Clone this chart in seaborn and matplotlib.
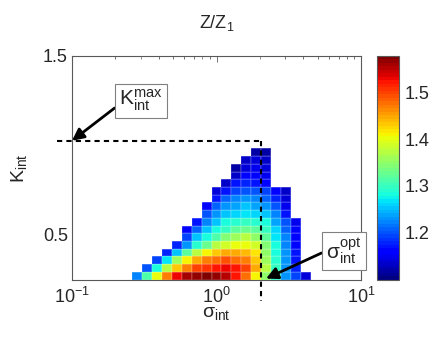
import numpy as np
import matplotlib
matplotlib.use("Agg")
import matplotlib.pyplot as plt
import seaborn as sns

# map grid: 29 x 29 cells, log-spaced in sigma_int, linear in K_int
n_cells = 29
log_sigma_lim = (-1.0, 1.0)
k_lim = (0.25, 1.5)

# first filled column of every row (row 0 = lowest K_int)
row_start = [6, 7, 8, 9, 10, 11, 11, 12, 13, 13, 14, 14, 15, 16, 16, 17, 18]

# Z/Z1 along each row
row_vals = [
    [1.22, 1.31, 1.40, 1.47, 1.53, 1.56, 1.57, 1.58, 1.57, 1.55, 1.52, 1.48, 1.41, 1.35, 1.29, 1.23, 1.19, 1.14],
    [1.20, 1.28, 1.37, 1.43, 1.47, 1.50, 1.51, 1.52, 1.53, 1.52, 1.50, 1.45, 1.37, 1.30, 1.23, 1.18],
    [1.19, 1.27, 1.36, 1.41, 1.45, 1.47, 1.48, 1.49, 1.48, 1.47, 1.43, 1.36, 1.29, 1.23, 1.17],
    [1.18, 1.25, 1.32, 1.37, 1.41, 1.43, 1.45, 1.45, 1.44, 1.42, 1.35, 1.28, 1.23, 1.17],
    [1.18, 1.23, 1.29, 1.33, 1.37, 1.39, 1.40, 1.40, 1.39, 1.34, 1.28, 1.22, 1.16],
    [1.19, 1.25, 1.28, 1.31, 1.34, 1.36, 1.37, 1.35, 1.32, 1.27, 1.22, 1.16],
    [1.16, 1.21, 1.25, 1.28, 1.30, 1.32, 1.33, 1.32, 1.30, 1.26, 1.21, 1.16],
    [1.17, 1.22, 1.25, 1.28, 1.29, 1.30, 1.29, 1.28, 1.24, 1.20, 1.15],
    [1.20, 1.23, 1.25, 1.26, 1.27, 1.26, 1.25, 1.22, 1.17],
    [1.16, 1.21, 1.23, 1.24, 1.25, 1.24, 1.23, 1.20, 1.15],
    [1.17, 1.21, 1.22, 1.23, 1.22, 1.21, 1.18, 1.14],
    [1.14, 1.17, 1.19, 1.20, 1.20, 1.19, 1.16, 1.13],
    [1.13, 1.17, 1.18, 1.17, 1.16],
    [1.13, 1.16, 1.16, 1.15],
    [1.12, 1.14, 1.15, 1.14],
    [1.13, 1.14, 1.13],
    [1.12, 1.12],
]

color_lim = (1.10, 1.578)
cbar_ticks = [1.2, 1.3, 1.4, 1.5]

k_max = 1.026      # dashed horizontal line
sigma_opt = 2.04   # dashed vertical line
dash_sigma_start = 0.079
dash_k_end = 0.128

k_label_pos = (0.30, 1.25)
k_arrow_tip = (0.10, k_max)
s_label_pos = (7.6, 0.41)
s_arrow_tip = (2.2, 0.255)


def hx(sigma):
    lo, hi = log_sigma_lim
    return (np.log10(sigma) - lo) / (hi - lo) * n_cells


def hy(k):
    lo, hi = k_lim
    return (k - lo) / (hi - lo) * n_cells


def main():
    sns.set_style("white")
    plt.rcParams["font.family"] = ["Liberation Sans", "DejaVu Sans"]
    plt.rcParams["mathtext.fontset"] = "custom"
    plt.rcParams["mathtext.rm"] = "Liberation Sans"
    plt.rcParams["mathtext.it"] = "Liberation Sans:italic"

    z = np.full((n_cells, n_cells), np.nan)
    for r, (start, vals) in enumerate(zip(row_start, row_vals)):
        z[r, start:start + len(vals)] = vals

    fig = plt.figure(figsize=(4.43, 3.51), dpi=100)
    W, H = 443, 351
    ax = fig.add_axes([72 / W, 1 - 279.5 / H, 289 / W, 223.5 / H])
    cax = fig.add_axes([377 / W, 1 - 279.5 / H, 22 / W, 223.5 / H])

    sns.heatmap(z, ax=ax, cbar_ax=cax, cmap=plt.get_cmap("jet", 64),
                vmin=color_lim[0], vmax=color_lim[1],
                linewidths=0.3, linecolor=(1, 1, 1, 0.12),
                xticklabels=False, yticklabels=False)
    ax.invert_yaxis()

    for s in ax.spines.values():
        s.set_visible(True)
        s.set_color("0.35")
        s.set_linewidth(0.8)

    # log axis ticks on the heatmap's cell coordinates
    ax.set_xticks([hx(0.1), hx(1.0), hx(10.0)])
    ax.set_xticklabels([r"$\mathregular{10^{-1}}$", r"$\mathregular{10^{0}}$",
                        r"$\mathregular{10^{1}}$"])
    minor = [m * 10.0 ** e for e in (-1, 0) for m in range(2, 10)]
    ax.set_xticks([hx(v) for v in minor], minor=True)
    ax.set_yticks([hy(0.5), hy(1.5)])
    ax.set_yticklabels(["0.5", "1.5"])
    ax.tick_params(which="both", direction="in", top=True, right=True,
                   color="0.35", width=0.6, labelsize=13)
    ax.tick_params(which="major", length=4)
    ax.tick_params(which="minor", length=2)
    ax.tick_params(axis="x", pad=5)
    ax.tick_params(axis="y", pad=3)

    ax.set_title(r"$\mathregular{Z/Z_1}$", fontsize=13, pad=20)
    ax.set_xlabel(r"$\mathregular{\sigma_{int}}$", fontsize=14, labelpad=-1)
    ax.set_ylabel(r"$\mathregular{K_{int}}$", fontsize=14, labelpad=10)

    dash = dict(color="k", lw=1.5, ls=(0, (2.5, 2)), clip_on=False)
    ax.plot([hx(dash_sigma_start), hx(sigma_opt)], [hy(k_max), hy(k_max)], **dash)
    ax.plot([hx(sigma_opt), hx(sigma_opt)], [hy(k_max), hy(dash_k_end)], **dash)

    box = dict(boxstyle="square,pad=0.2", fc="white", ec="0.5", lw=0.8)
    arrow = dict(arrowstyle="-|>,head_length=0.5,head_width=0.25", color="k",
                 lw=2, shrinkA=0, shrinkB=0, mutation_scale=14)
    ax.annotate(r"$\mathregular{K_{int}^{max}}$",
                xy=(hx(k_arrow_tip[0]), hy(k_arrow_tip[1])),
                xytext=(hx(k_label_pos[0]), hy(k_label_pos[1])),
                ha="center", va="center", fontsize=15, bbox=box,
                arrowprops=dict(arrow, relpos=(0, 0.35)), annotation_clip=False)
    ax.annotate(r"$\mathregular{\sigma_{int}^{opt}}$",
                xy=(hx(s_arrow_tip[0]), hy(s_arrow_tip[1])),
                xytext=(hx(s_label_pos[0]), hy(s_label_pos[1])),
                ha="center", va="center", fontsize=15, bbox=box,
                arrowprops=dict(arrow, relpos=(0, 0.5)), annotation_clip=False)

    cb = ax.collections[0].colorbar
    cb.set_ticks(cbar_ticks)
    cb.set_ticklabels([f"{t:.1f}" for t in cbar_ticks])
    cb.outline.set_linewidth(0.8)
    cb.outline.set_edgecolor("0.35")
    cax.tick_params(direction="in", left=True, right=True, length=3,
                    color="0.35", width=0.6, labelsize=13, pad=4)

    fig.savefig("out.png", dpi=100)
    plt.close(fig)


if __name__ == "__main__":
    main()
